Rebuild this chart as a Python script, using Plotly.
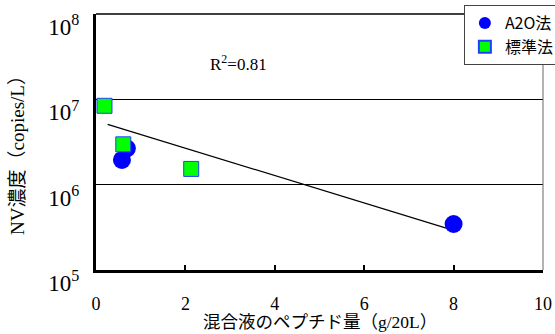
import plotly.graph_objects as go

# Data
a2o_x = [0.58, 0.69, 8.0]
a2o_y = [1.95e6, 2.67e6, 3.46e5]
std_x = [0.19, 0.61, 2.13]
std_y = [8.4e6, 2.97e6, 1.53e6]
trend_x = [0.26, 8.09]
trend_y = [5.09e6, 2.82e5]
x_ticks = [0, 2, 4, 6, 8, 10]
y_ticks = [1e5, 1e6, 1e7, 1e8]
y_tick_text = ["10<sup>5</sup>", "10<sup>6</sup>", "10<sup>7</sup>", "10<sup>8</sup>"]
r2_text = "R<sup>2</sup>=0.81"

SERIF = "Liberation Serif, Noto Sans CJK JP, serif"

fig = go.Figure()
fig.add_trace(go.Scatter(x=trend_x, y=trend_y, mode="lines",
                         line=dict(color="black", width=1.2),
                         showlegend=False, hoverinfo="skip"))
fig.add_trace(go.Scatter(x=a2o_x, y=a2o_y, mode="markers", name="A2O法",
                         marker=dict(symbol="circle", size=18, color="#0000FF",
                                     line=dict(color="#0000FF", width=0))))
fig.add_trace(go.Scatter(x=std_x, y=std_y, mode="markers", name="標準法",
                         marker=dict(symbol="square", size=15, color="#00FF00",
                                     line=dict(color="#2040FF", width=1))))

fig.update_layout(
    width=555, height=334,
    margin=dict(l=96, r=12, t=14, b=64, autoexpand=False),
    paper_bgcolor="white", plot_bgcolor="white",
    font=dict(family=SERIF, color="black"),
    legend=dict(x=0.823, y=1.035, xanchor="left", yanchor="top",
                bgcolor="white", bordercolor="#444", borderwidth=1,
                font=dict(family="Noto Sans CJK JP, sans-serif", size=16),
                itemsizing="constant", tracegroupgap=0,
                itemwidth=30),
    xaxis=dict(range=[0, 10], tickvals=x_ticks, ticks="inside", ticklen=5,
               tickwidth=2, tickcolor="black", showline=True, linecolor="black",
               linewidth=3, showgrid=False, zeroline=False,
               tickfont=dict(family=SERIF, size=18), ticklabelstandoff=15),
    yaxis=dict(type="log", range=[5, 8], tickvals=y_ticks, ticktext=y_tick_text,
               showline=True, linecolor="black", linewidth=3, ticks="",
               showgrid=True, gridcolor="black", gridwidth=1, zeroline=False,
               tickfont=dict(family=SERIF, size=23), ticklabelshift=13,
               ticklabelstandoff=9),
    shapes=[
        dict(type="line", xref="paper", yref="paper", x0=0, x1=1, y0=1, y1=1,
             line=dict(color="black", width=1.5)),
        dict(type="line", xref="paper", yref="paper", x0=1, x1=1, y0=0, y1=1,
             line=dict(color="#666", width=1)),
    ],
    annotations=[
        dict(text=r2_text, xref="paper", yref="paper", x=0.319, y=0.809,
             xanchor="center", yanchor="middle",
             showarrow=False, font=dict(family=SERIF, size=17)),
        dict(text="混合液のペプチド量（g/20L）", xref="paper", yref="paper",
             x=0.5, y=-0.203, xanchor="center", yanchor="middle", showarrow=False,
             font=dict(family=SERIF, size=17.5)),
        dict(text="NV濃度（copies/L）", xref="paper", yref="paper",
             x=-0.1745, y=0.469, xanchor="center", yanchor="middle",
             textangle=-90, showarrow=False,
             font=dict(family=SERIF, size=19)),
    ],
)

fig.write_html("out.html", post_script="document.body.style.margin='0';",
               config={"displayModeBar": False})
